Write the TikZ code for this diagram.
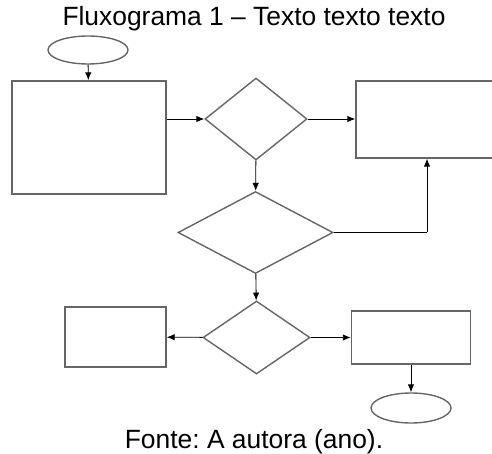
\documentclass[tikz,border=0pt]{standalone}
\usepackage{fontspec}
\setmainfont{Liberation Sans}
\usepackage{tikz}
\usetikzlibrary{arrows.meta}
\usetikzlibrary{shapes.geometric}
\frenchspacing

\begin{document}
\begin{tikzpicture}[x=1pt, y=-1pt,
    shape line/.style={draw=black!60, line width=1.4pt, fill=white, inner sep=0pt},
    box/.style={shape line, rectangle},
    decision/.style={shape line, diamond},
    terminal/.style={shape line, ellipse},
    flow/.style={draw=black, line width=0.9pt, -{Latex[length=8pt, width=6.5pt]}},
    caption/.style={font=\fontsize{26.4}{30}\selectfont, anchor=base}]
    \clip (0,0) rectangle (492,454);

    \node[caption] (title) at (254,26) {Fluxograma 1 – Texto texto texto};

    \node[terminal, minimum width=80pt, minimum height=28pt] (start) at (88,50) {};
    \node[box, minimum width=154pt, minimum height=113pt] (entry) at (89,137.5) {};
    \node[decision, minimum width=102pt, minimum height=82pt] (testA) at (256,119) {};
    \node[box, minimum width=164pt, minimum height=77pt] (result) at (438,119.5) {};
    \node[decision, minimum width=155pt, minimum height=82pt] (testB) at (255.5,232.5) {};
    \node[decision, minimum width=107pt, minimum height=73pt] (testC) at (256.5,337.5) {};
    \node[box, minimum width=101pt, minimum height=60pt] (left) at (115.5,337) {};
    \node[box, minimum width=119pt, minimum height=53pt] (right) at (411,337.5) {};
    \node[terminal, minimum width=80pt, minimum height=30pt] (stop) at (411,408) {};
    \coordinate (turn) at (427,232.5);

    \draw[flow] (start) -- (entry);
    \draw[flow] (testA.west -| entry.east) -- (testA);
    \draw[flow] (testA) -- (testA.east -| result.west);
    \draw[flow] (testA) -- (testB);
    \draw[draw=black, line width=0.9pt] (testB.east) -- (turn);
    \draw[flow] (turn) -- (turn |- result.south);
    \draw[flow] (testB) -- (testC);
    \draw[flow] (testC) -- (left);
    \draw[flow] (testC) -- (right);
    \draw[flow] (right) -- (stop);

    \node[caption] (source) at (254,448) {Fonte: A autora (ano).};
\end{tikzpicture}
\end{document}
